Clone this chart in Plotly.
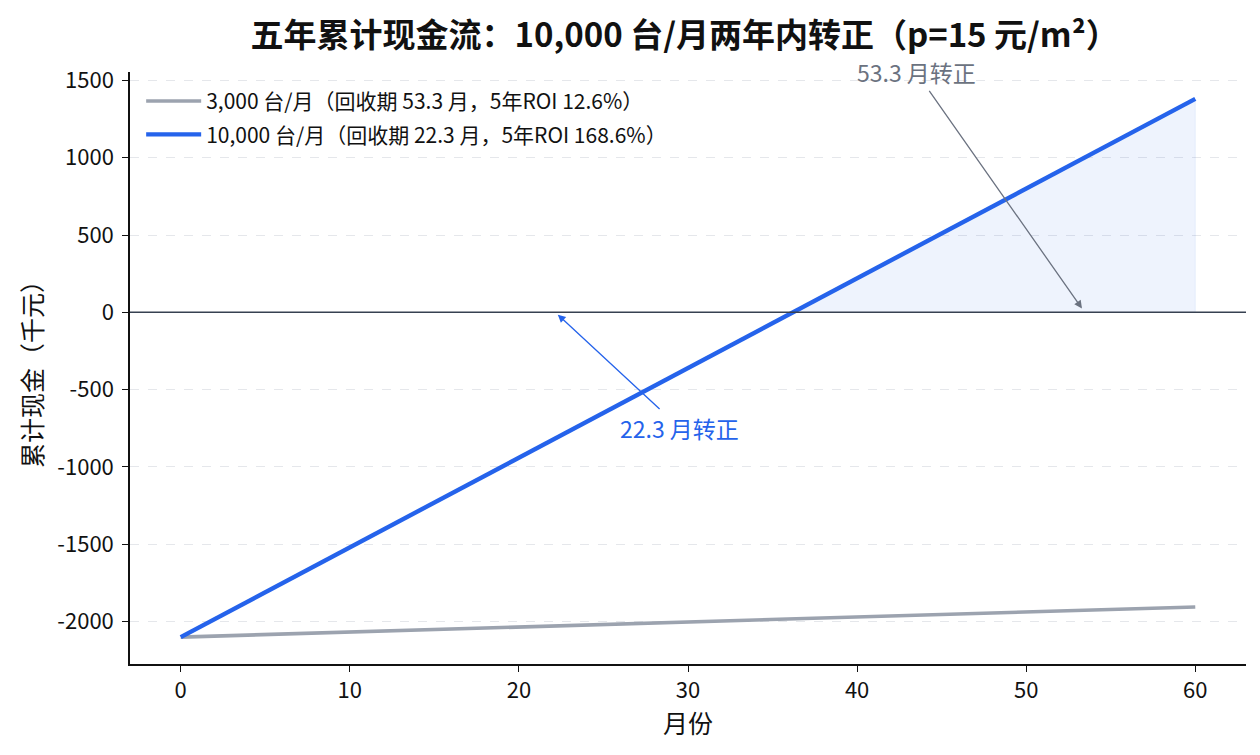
import plotly.graph_objects as go

months = [0, 10, 20, 30, 40, 50, 60]
cash_3000 = [-2100, -2068, -2035, -2003, -1970, -1938, -1905]
cash_10000 = [-2100, -1520, -940, -360, 220, 800, 1380]
fill_months = [36.2, 40, 50, 60]
fill_values = [0, 220, 800, 1380]
names = ["3,000 台/月（回收期 53.3 月，5年ROI 12.6%）",
         "10,000 台/月（回收期 22.3 月，5年ROI 168.6%）"]
payback = [53.3, 22.3]
y_ticks = [-2000, -1500, -1000, -500, 0, 500, 1000, 1500]
x_ticks = [0, 10, 20, 30, 40, 50, 60]
title = "五年累计现金流：10,000 台/月两年内转正（p=15 元/m²）"
FONT = "Noto Sans CJK SC"
BLUE = "#2563eb"
GRAY = "#9ca3af"

fig = go.Figure()
fig.add_trace(go.Scatter(x=fill_months, y=[0]*len(fill_months), mode="lines",
                         line=dict(width=0), showlegend=False, hoverinfo="skip"))
fig.add_trace(go.Scatter(x=fill_months, y=fill_values, mode="lines", fill="tonexty",
                         fillcolor="rgba(37,99,235,0.08)",
                         line=dict(width=0), showlegend=False, hoverinfo="skip"))
fig.add_trace(go.Scatter(x=[60, 60], y=[0, fill_values[-1]], mode="lines",
                         line=dict(width=1, color="rgba(37,99,235,0.08)"),
                         showlegend=False, hoverinfo="skip"))
fig.add_hline(y=0, line=dict(color="#374151", width=1.5))
fig.add_trace(go.Scatter(x=months, y=cash_3000, mode="lines", name=names[0],
                         legendgroup="a", line=dict(color=GRAY, width=3.6)))
fig.add_trace(go.Scatter(x=months, y=cash_10000, mode="lines", name=names[1],
                         legendgroup="b", line=dict(color=BLUE, width=4.4)))

fig.add_annotation(x=payback[1], y=-15, ax=29.5, ay=-745, xref="x", yref="y",
                   axref="x", ayref="y", text="22.3 月转正", showarrow=True,
                   arrowhead=2, arrowsize=1.2, arrowwidth=1.3, arrowcolor=BLUE,
                   font=dict(family=FONT, size=23, color=BLUE))
fig.add_annotation(x=payback[0], y=25, ax=43.5, ay=1551, xref="x", yref="y",
                   axref="x", ayref="y", text="53.3 月转正", showarrow=True,
                   arrowhead=2, arrowsize=1.2, arrowwidth=1.3, arrowcolor="#6b7280",
                   font=dict(family=FONT, size=23, color="#6b7280"))

fig.update_layout(
    width=1260, height=755,
    paper_bgcolor="white", plot_bgcolor="white",
    margin=dict(l=122, r=22, t=64, b=99, autoexpand=False),
    font=dict(family=FONT, size=21, color="#111111"),
    title=dict(text="<b>" + title + "</b>", x=0.537, xref="container", xanchor="center",
               y=1 - 27/755, yref="container", yanchor="middle",
               font=dict(family=FONT, size=33, color="#111111")),
    legend=dict(x=0.01, y=0.985, xanchor="left", yanchor="top", traceorder="grouped",
                tracegroupgap=3, bgcolor="rgba(255,255,255,0)", itemwidth=55,
                font=dict(family=FONT, size=21)),
    xaxis=dict(range=[-3, 63], tickvals=x_ticks,
               showgrid=False, zeroline=False, showline=True, linecolor="#111111",
               linewidth=1.5, ticks="outside", ticklen=6, tickcolor="#111111",
               tickfont=dict(size=22), automargin=False,
               title=dict(text="月份", standoff=6, font=dict(family=FONT, size=25))),
    yaxis=dict(range=[-2274, 1554], tickvals=y_ticks, ticktext=[str(v) for v in y_ticks],
               showgrid=True, gridcolor="#e5e7eb", griddash="dash", gridwidth=1,
               zeroline=False, showline=True, linecolor="#111111", linewidth=1.5,
               ticks="outside", ticklen=6, tickcolor="#111111", ticklabelstandoff=4,
               tickfont=dict(size=22), automargin=False,
               title=dict(text="累计现金（千元）", standoff=8, font=dict(family=FONT, size=25))),
)

fig.write_html("out.html")
